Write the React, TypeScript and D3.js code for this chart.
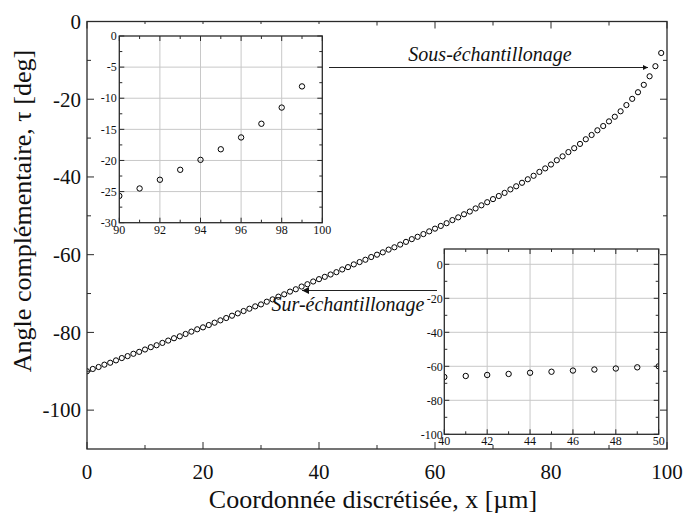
import React from "react";
import * as d3 from "d3";

// Main series: angle values at x = 0, 1, 2, ... 99 (µm)
const angleValues: number[] = [
  -90.0, -89.4, -88.9, -88.3, -87.8, -87.2, -86.6, -86.1, -85.5, -85.0,
  -84.4, -83.8, -83.3, -82.7, -82.1, -81.5, -81.0, -80.4, -79.8, -79.2,
  -78.7, -78.1, -77.5, -76.9, -76.3, -75.7, -75.1, -74.5, -73.9, -73.3,
  -72.8, -72.1, -71.5, -70.8, -70.2, -69.5, -68.9, -68.2, -67.6, -66.9,
  -66.3, -65.7, -65.1, -64.5, -63.8, -63.2, -62.5, -61.9, -61.3, -60.6,
  -60.0, -59.4, -58.7, -58.1, -57.4, -56.7, -56.0, -55.4, -54.7, -54.0,
  -53.3, -52.6, -51.9, -51.1, -50.4, -49.6, -48.9, -48.1, -47.3, -46.5,
  -45.7, -44.9, -44.1, -43.2, -42.4, -41.5, -40.6, -39.7, -38.7, -37.8,
  -36.8, -35.7, -34.7, -33.6, -32.6, -31.5, -30.3, -29.2, -28.0, -26.9,
  -25.7, -24.5, -23.1, -21.5, -19.9, -18.2, -16.3, -14.1, -11.5, -8.1,
];

const mainXTicks = [0, 20, 40, 60, 80, 100];
const mainXMinor = [10, 30, 50, 70, 90];
const mainYTicks = [0, -20, -40, -60, -80, -100];
const mainYMinor = [-10, -30, -50, -70, -90];

const inset1XTicks = [90, 92, 94, 96, 98, 100];
const inset1XMinor = [91, 93, 95, 97, 99];
const inset1YTicks = [0, -5, -10, -15, -20, -25, -30];
const inset1YMinor = [-2.5, -7.5, -12.5, -17.5, -22.5, -27.5];

const inset2XTicks = [40, 42, 44, 46, 48, 50];
const inset2XMinor = [41, 43, 45, 47, 49];
const inset2YTicks = [0, -20, -40, -60, -80, -100];
const inset2YMinor = [-10, -30, -50, -70, -90];

const xTitle = "Coordonnée discrétisée, x [µm]";
const yTitle = "Angle complémentaire, τ [deg]";
const noteUnder = "Sous-échantillonage";
const noteOver = "Sur-échantillonage";

const FONT = "Liberation Serif, Times New Roman, Times, serif";
const FRAME = "#2a2a2a";
const GRID = "#c8c8c8";

type PanelProps = {
  id: string;
  xDomain: [number, number];
  yDomain: [number, number];
  box: { left: number; right: number; top: number; bottom: number };
  xTicks: number[];
  xMinor: number[];
  yTicks: number[];
  yMinor: number[];
  grid: boolean;
  major: number;
  minor: number;
  fontSize: number;
  xLabelOffset: number;
  yLabelOffset: number;
  radius: number;
  bg?: { x: number; y: number; w: number; h: number };
};

function Panel(p: PanelProps) {
  const { left, right, top, bottom } = p.box;
  const x = d3.scaleLinear().domain(p.xDomain).range([left, right]);
  const y = d3.scaleLinear().domain(p.yDomain).range([bottom, top]);
  const pts = angleValues.map((v, i) => ({ xv: i, yv: v }));
  const clipId = `clip-${p.id}`;
  const ts = { fontFamily: FONT, fontSize: p.fontSize };
  return (
    <g>
      {p.bg && <rect x={p.bg.x} y={p.bg.y} width={p.bg.w} height={p.bg.h} fill="#fff" />}
      <defs>
        <clipPath id={clipId}>
          <rect x={left} y={top} width={right - left} height={bottom - top} />
        </clipPath>
      </defs>
      {p.grid && (
        <g stroke={GRID} strokeWidth={1}>
          {p.xTicks
            .filter((t) => t !== p.xDomain[0] && t !== p.xDomain[1])
            .map((t) => (
              <line key={`gx${t}`} x1={x(t)} x2={x(t)} y1={top} y2={bottom} />
            ))}
          {p.yTicks
            .filter((t) => y(t) > top + 0.5 && y(t) < bottom - 0.5)
            .map((t) => (
              <line key={`gy${t}`} x1={left} x2={right} y1={y(t)} y2={y(t)} />
            ))}
        </g>
      )}
      <g clipPath={`url(#${clipId})`}>
        {pts.map((d) => (
          <circle
            key={d.xv}
            cx={x(d.xv)}
            cy={y(d.yv)}
            r={p.radius}
            fill="none"
            stroke="#000"
            strokeWidth={1}
          />
        ))}
      </g>
      <g stroke={FRAME} strokeWidth={1}>
        {p.xTicks.map((t) => (
          <g key={`tx${t}`}>
            <line x1={x(t)} x2={x(t)} y1={bottom} y2={bottom - p.major} />
            <line x1={x(t)} x2={x(t)} y1={top} y2={top + p.major} />
          </g>
        ))}
        {p.xMinor.map((t) => (
          <g key={`mx${t}`}>
            <line x1={x(t)} x2={x(t)} y1={bottom} y2={bottom - p.minor} />
            <line x1={x(t)} x2={x(t)} y1={top} y2={top + p.minor} />
          </g>
        ))}
        {p.yTicks.map((t) => (
          <g key={`ty${t}`}>
            <line x1={left} x2={left + p.major} y1={y(t)} y2={y(t)} />
            <line x1={right} x2={right - p.major} y1={y(t)} y2={y(t)} />
          </g>
        ))}
        {p.yMinor.map((t) => (
          <g key={`my${t}`}>
            <line x1={left} x2={left + p.minor} y1={y(t)} y2={y(t)} />
            <line x1={right} x2={right - p.minor} y1={y(t)} y2={y(t)} />
          </g>
        ))}
      </g>
      <rect
        x={left}
        y={top}
        width={right - left}
        height={bottom - top}
        fill="none"
        stroke={FRAME}
        strokeWidth={1.3}
      />
      <g fill="#111">
        {p.xTicks.map((t) => (
          <text key={`lx${t}`} x={x(t)} y={bottom + p.xLabelOffset} textAnchor="middle" style={ts}>
            {t}
          </text>
        ))}
        {p.yTicks.map((t) => (
          <text key={`ly${t}`} x={left - p.yLabelOffset} y={y(t)} dy="0.35em" textAnchor="end" style={ts}>
            {t}
          </text>
        ))}
      </g>
    </g>
  );
}

export default function App() {
  const W = 684;
  const H = 516;
  const italic = { fontFamily: FONT, fontSize: 20, fontStyle: "italic" as const };
  const title = { fontFamily: FONT, fontSize: 26 };
  return (
    <svg
      width={W}
      height={H}
      viewBox={`0 0 ${W} ${H}`}
      style={{ position: "absolute", left: 0, top: 0, background: "#fff" }}
    >
      <rect x={0} y={0} width={W} height={H} fill="#fff" />
      <defs>
        <marker id="headSmall" viewBox="0 0 10 10" refX="10" refY="5" markerWidth="6" markerHeight="5" orient="auto" markerUnits="userSpaceOnUse">
          <path d="M0,0 L10,5 L0,10 z" fill="#111" />
        </marker>
        <marker id="headBig" viewBox="0 0 10 10" refX="10" refY="5" markerWidth="13" markerHeight="7" orient="auto" markerUnits="userSpaceOnUse">
          <path d="M0,0 L10,5 L0,10 z" fill="#111" />
        </marker>
      </defs>

      <Panel
        id="main"
        xDomain={[0, 100]}
        yDomain={[-110, 0]}
        box={{ left: 87, right: 667, top: 21.5, bottom: 449 }}
        xTicks={mainXTicks}
        xMinor={mainXMinor}
        yTicks={mainYTicks}
        yMinor={mainYMinor}
        grid={false}
        major={7}
        minor={4}
        fontSize={21}
        xLabelOffset={30}
        yLabelOffset={6}
        radius={2.6}
      />

      <Panel
        id="inset1"
        xDomain={[90, 100]}
        yDomain={[-30, 0]}
        box={{ left: 119.3, right: 322.3, top: 36, bottom: 222.7 }}
        xTicks={inset1XTicks}
        xMinor={inset1XMinor}
        yTicks={inset1YTicks}
        yMinor={inset1YMinor}
        grid={true}
        major={5}
        minor={3}
        fontSize={12}
        xLabelOffset={11}
        yLabelOffset={2.5}
        radius={2.7}
        bg={{ x: 96, y: 24, w: 240, h: 216 }}
      />

      <Panel
        id="inset2"
        xDomain={[40, 50]}
        yDomain={[-100, 9]}
        box={{ left: 444.3, right: 658.7, top: 249, bottom: 434.3 }}
        xTicks={inset2XTicks}
        xMinor={inset2XMinor}
        yTicks={inset2YTicks}
        yMinor={inset2YMinor}
        grid={true}
        major={5}
        minor={3}
        fontSize={12}
        xLabelOffset={11}
        yLabelOffset={1.5}
        radius={2.7}
        bg={{ x: 415, y: 243, w: 245, h: 198 }}
      />

      {/* annotations */}
      <line x1={329} y1={67.5} x2={648} y2={67.5} stroke="#222" strokeWidth={1} markerEnd="url(#headSmall)" />
      <text x={490} y={61} textAnchor="middle" fill="#111" style={italic}>
        {noteUnder}
      </text>
      <line x1={437} y1={290.5} x2={302} y2={290.5} stroke="#222" strokeWidth={1} markerEnd="url(#headBig)" />
      <text x={348} y={311} textAnchor="middle" fill="#111" style={italic}>
        {noteOver}
      </text>

      {/* axis titles */}
      <text x={373} y={508} textAnchor="middle" fill="#111" style={title}>
        {xTitle}
      </text>
      <text transform="translate(31,211) rotate(-90)" textAnchor="middle" fill="#111" style={title}>
        {yTitle}
      </text>
    </svg>
  );
}
